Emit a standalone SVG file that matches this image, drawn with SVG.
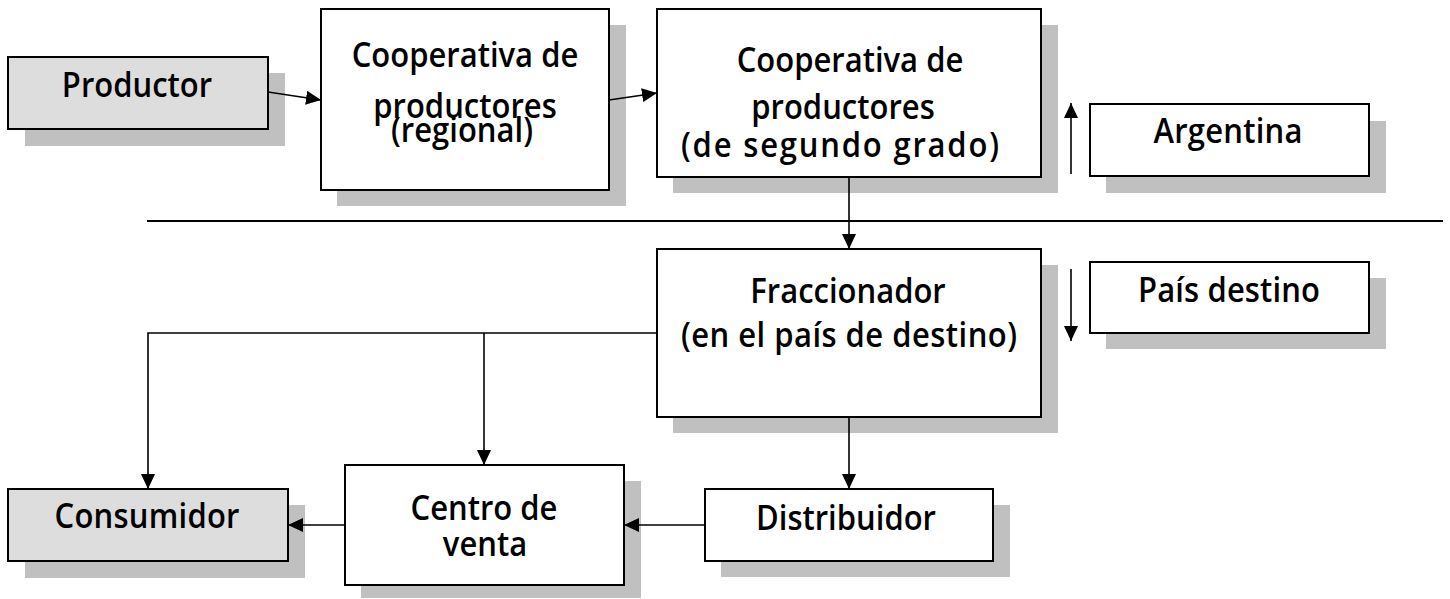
<svg xmlns="http://www.w3.org/2000/svg" width="1450" height="599" viewBox="0 0 1450 599">
<style>
.shadow{fill:#c0c0c0;stroke:none}
.box{fill:#ffffff;stroke:#000;stroke-width:2}
.gray{fill:#dddddd}
.t{font-family:"Open Sans","Noto Sans",sans-serif;font-size:31px;font-weight:600;fill:#000;text-anchor:middle}
.c{fill:none;stroke:#000;stroke-width:1.6}
.sep{fill:none;stroke:#000;stroke-width:2}
</style>
<defs>
<marker id="ah" markerUnits="userSpaceOnUse" markerWidth="15" markerHeight="14" refX="15" refY="7" orient="auto">
<path d="M0,0 L15,7 L0,14 z" fill="#000"/>
</marker>
</defs>
<rect width="1450" height="599" fill="#fff"/>

<g id="productor">
<rect class="shadow" x="25" y="73" width="260" height="73"/>
<rect class="box gray" x="8" y="57" width="260" height="72"/>
<text class="t" transform="translate(137,97) scale(1,1.1)">Productor</text>
</g>

<g id="coop-regional">
<rect class="shadow" x="337" y="25" width="289" height="181"/>
<rect class="box" x="321" y="9" width="288" height="181"/>
<text class="t" transform="translate(465,67) scale(1,1.1)">Cooperativa de</text>
<text class="t" transform="translate(465,118) scale(1,1.1)">productores</text>
<text class="t" transform="translate(462,142) scale(1,1.1)">(regional)</text>
</g>

<g id="coop-segundo">
<rect class="shadow" x="673" y="25" width="385" height="168"/>
<rect class="box" x="657" y="9" width="384" height="168"/>
<text class="t" transform="translate(850,72) scale(1,1.1)">Cooperativa de</text>
<text class="t" transform="translate(843,119) scale(1,1.1)">productores</text>
<text class="t" transform="translate(840,157) scale(1,1.1)" textLength="318" lengthAdjust="spacing">(de segundo grado)</text>
</g>

<g id="argentina">
<rect class="shadow" x="1106" y="121" width="280" height="72"/>
<rect class="box" x="1090" y="104" width="279" height="72"/>
<text class="t" transform="translate(1228,143) scale(1,1.1)" textLength="149" lengthAdjust="spacing">Argentina</text>
</g>

<g id="fraccionador">
<rect class="shadow" x="673" y="265" width="385" height="168"/>
<rect class="box" x="657" y="249" width="384" height="168"/>
<text class="t" transform="translate(848,303) scale(1,1.1)">Fraccionador</text>
<text class="t" transform="translate(849,347) scale(1,1.1)" textLength="336" lengthAdjust="spacing">(en el país de destino)</text>
</g>

<g id="pais-destino">
<rect class="shadow" x="1106" y="278" width="280" height="71"/>
<rect class="box" x="1090" y="262" width="279" height="71"/>
<text class="t" transform="translate(1229,302) scale(1,1.1)" textLength="182" lengthAdjust="spacing">País destino</text>
</g>

<g id="distribuidor">
<rect class="shadow" x="721" y="505" width="289" height="72"/>
<rect class="box" x="705" y="489" width="288" height="72"/>
<text class="t" transform="translate(846,530) scale(1,1.1)">Distribuidor</text>
</g>

<g id="centro-venta">
<rect class="shadow" x="361" y="481" width="280" height="117"/>
<rect class="box" x="345" y="465" width="279" height="120"/>
<text class="t" transform="translate(484,520) scale(1,1.1)">Centro de</text>
<text class="t" transform="translate(485,556) scale(1,1.1)">venta</text>
</g>

<g id="consumidor">
<rect class="shadow" x="25" y="505" width="280" height="73"/>
<rect class="box gray" x="8" y="489" width="280" height="72"/>
<text class="t" transform="translate(147,528) scale(1,1.1)" textLength="185" lengthAdjust="spacing">Consumidor</text>
</g>

<g id="connectors">
<line class="sep" x1="147" y1="221" x2="1443" y2="221"/>
<line class="c" x1="268" y1="92" x2="321" y2="100" marker-end="url(#ah)"/>
<line class="c" x1="609" y1="100" x2="657" y2="93" marker-end="url(#ah)"/>
<line class="c" x1="849" y1="177" x2="849" y2="249" marker-end="url(#ah)"/>
<line class="c" x1="1071" y1="174" x2="1071" y2="103" marker-end="url(#ah)"/>
<line class="c" x1="1071" y1="269" x2="1071" y2="341" marker-end="url(#ah)"/>
<line class="c" x1="849" y1="417" x2="849" y2="489" marker-end="url(#ah)"/>
<line class="c" x1="705" y1="525" x2="624" y2="525" marker-end="url(#ah)"/>
<line class="c" x1="345" y1="525" x2="288" y2="525" marker-end="url(#ah)"/>
<polyline class="c" points="657,333 148,333 148,489" marker-end="url(#ah)"/>
<line class="c" x1="484" y1="333" x2="484" y2="465" marker-end="url(#ah)"/>
</g>
</svg>
